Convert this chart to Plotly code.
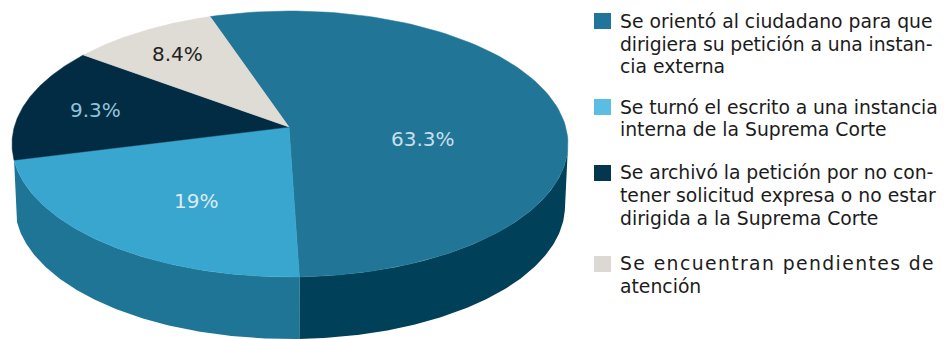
import numpy as np
import plotly.graph_objects as go

# Data
categories = [
    "Se orientó al ciudadano para que dirigiera su petición a una instancia externa",
    "Se turnó el escrito a una instancia interna de la Suprema Corte",
    "Se archivó la petición por no contener solicitud expresa o no estar dirigida a la Suprema Corte",
    "Se encuentran pendientes de atención",
]
values = [63.3, 19, 9.3, 8.4]
# Share of the rim each slice occupies in the drawing (the source art is not proportional)
drawn_share = [54.1, 23.6, 13.6, 8.7]
legend_lines = [
    ["Se orientó al ciudadano para que", "dirigiera su petición a una instan-", "cia externa"],
    ["Se turnó el escrito a una instancia", "interna de la Suprema Corte"],
    ["Se archivó la petición por no con-", "tener solicitud expresa o no estar", "dirigida a la Suprema Corte"],
    ["Se encuentran pendientes de", "atención"],
]

# Styles
top_colors = ["#217698", "#38a6cf", "#012c43", "#dfdbd5"]
legend_colors = ["#21759a", "#5cbde2", "#033750", "#dcd8d4"]
label_colors = ["#c6dfea", "#dfeaf0", "#93c3d8", "#222222"]
label_pos = [(423, 139), (196, 201), (95, 110), (177, 54)]
legend_y = [[21, 44, 66], [107, 129], [172, 195, 218], [263, 286]]
legend_sq = [13, 99, 165, 256]
legend_spacing = [[0, -0.1, 0], [-0.1, 0], [-0.05, 0, 0], [1.4, 0]]
FONT = "DejaVu Sans"
CX, CY, RX, RY = 290, 144, 278, 133
AX, AY = 289, 127          # apex of the wedges
DEPTH = 62
START = 106.7              # rim parameter where the first slice starts, degrees
PAGE_INSET = 8             # the page's body margin


def rim(t0, t1, dy=0, rx=RX, n=120):
    t = np.radians(np.linspace(t0, t1, n))
    return CX + rx * np.cos(t), CY + dy - RY * np.sin(t)


fig = go.Figure()

# side walls
split = START - sum(drawn_share[:1]) * 3.6   # seam under the end of slice 1
for t0, t1, col in [(split, -2, "#004058"), (split, -173, "#1f7595")]:
    xa, ya = rim(t0, t1)
    xb, yb = rim(t1, t0, DEPTH, RX - 3)
    fig.add_trace(go.Scatter(x=np.r_[xa, xb], y=np.r_[ya, yb], fill="toself", mode="lines",
                             fillcolor=col, line=dict(width=0), hoverinfo="skip", showlegend=False))

# top face wedges
t = START
for name, share, col in zip(categories, drawn_share, top_colors):
    t_end = t - share * 3.6
    xa, ya = rim(t, t_end)
    fig.add_trace(go.Scatter(x=np.r_[AX, xa, AX], y=np.r_[AY, ya, AY], fill="toself", mode="lines",
                             fillcolor=col, line=dict(width=0.5, color=col), name=name,
                             hoverinfo="name", showlegend=False))
    t = t_end

ann = []
for v, (x, y), c in zip(values, label_pos, label_colors):
    ann.append(dict(x=x, y=y, text=f"{v:g}%", showarrow=False, xanchor="center", yanchor="middle",
                    font=dict(family=FONT, size=20, color=c)))
for lines, ys, sps in zip(legend_lines, legend_y, legend_spacing):
    for line, y, s in zip(lines, ys, sps):
        txt = f'<span style="letter-spacing:{s}px">{line}</span>' if s else line
        ann.append(dict(x=618, y=y, text=txt, showarrow=False, xanchor="left", yanchor="middle",
                        font=dict(family=FONT, size=18.8, color="#1c1c1c")))

shapes = [dict(type="rect", x0=594, x1=611, y0=y, y1=y + 16, fillcolor=c, line=dict(width=0), layer="above")
          for y, c in zip(legend_sq, legend_colors)]

fig.update_layout(
    width=945 - PAGE_INSET, height=339 - PAGE_INSET, margin=dict(l=0, r=0, t=0, b=0),
    paper_bgcolor="white", plot_bgcolor="white",
    xaxis=dict(range=[PAGE_INSET, 945], visible=False, fixedrange=True),
    yaxis=dict(range=[339, PAGE_INSET], visible=False, fixedrange=True),
    annotations=ann, shapes=shapes,
)
fig.write_html("out.html", config=dict(displayModeBar=False))
